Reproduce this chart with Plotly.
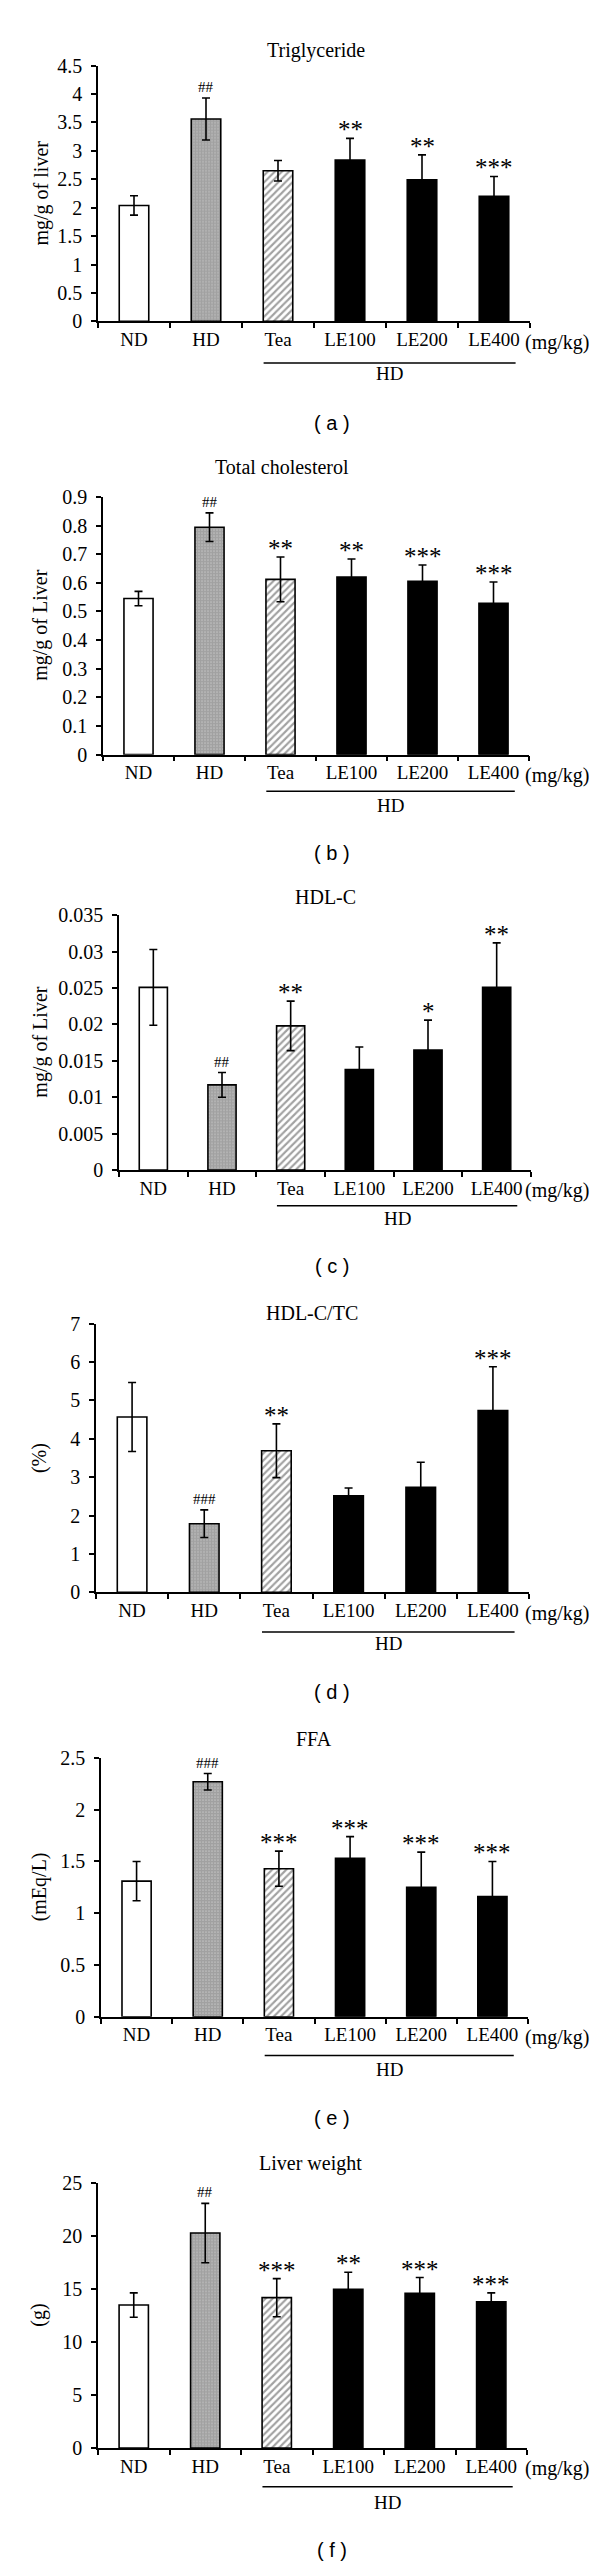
import plotly.graph_objects as go

categories = ["ND", "HD", "Tea", "LE100", "LE200", "LE400"]

tg_mean = [2.04, 3.56, 2.65, 2.84, 2.49, 2.20]
tg_err = [0.17, 0.37, 0.18, 0.38, 0.44, 0.35]
tg_sig = ["", "##", "", "**", "**", "***"]

tc_mean = [0.545, 0.794, 0.612, 0.620, 0.605, 0.528]
tc_err = [0.025, 0.050, 0.078, 0.063, 0.057, 0.075]
tc_sig = ["", "##", "**", "**", "***", "***"]

hdl_mean = [0.0251, 0.0117, 0.0198, 0.0138, 0.0165, 0.0251]
hdl_err = [0.0052, 0.0017, 0.0034, 0.0031, 0.0041, 0.0061]
hdl_sig = ["", "##", "**", "", "*", "**"]

ratio_mean = [4.57, 1.79, 3.69, 2.52, 2.74, 4.74]
ratio_err = [0.90, 0.36, 0.70, 0.20, 0.65, 1.14]
ratio_sig = ["", "###", "**", "", "", "***"]

ffa_mean = [1.31, 2.27, 1.43, 1.53, 1.25, 1.16]
ffa_err = [0.19, 0.08, 0.17, 0.21, 0.34, 0.34]
ffa_sig = ["", "###", "***", "***", "***", "***"]

lw_mean = [13.5, 20.3, 14.2, 15.0, 14.6, 13.8]
lw_err = [1.15, 2.8, 1.8, 1.6, 1.5, 0.85]
lw_sig = ["", "##", "***", "**", "***", "***"]

titles = ["Triglyceride", "Total cholesterol", "HDL-C", "HDL-C/TC", "FFA", "Liver weight"]
ytitles = ["mg/g of liver", "mg/g of Liver", "mg/g of Liver", "(%)", "(mEq/L)", "(g)"]
panel_labels = ["( a )", "( b )", "( c )", "( d )", "( e )", "( f )"]
yranges = [4.5, 0.9, 0.035, 7, 2.5, 25]
dticks = [0.5, 0.1, 0.005, 1, 0.5, 5]
means = [tg_mean, tc_mean, hdl_mean, ratio_mean, ffa_mean, lw_mean]
errs = [tg_err, tc_err, hdl_err, ratio_err, ffa_err, lw_err]
sigs = [tg_sig, tc_sig, hdl_sig, ratio_sig, ffa_sig, lw_sig]

# layout geometry (pixels)
W, H = 600, 2568
plot_x = [(90, 522), (95, 521), (111, 523), (88, 521), (93, 520), (90, 519)]
plot_y = [(47, 305), (482, 742), (904, 1161), (1316, 1587), (1754, 2015), (2183, 2450)]
title_pos = [(308, 32), (274, 452), (317, 886), (304, 1305), (306, 1735), (302, 2163)]
ytitle_x = [33, 33, 33, 31, 31, 31]
line_off = [42, 37, 36, 40, 39, 39]
hd_off = [53, 51, 49, 52, 53, 55]
label_y = [407, 841, 1258, 1687, 2117, 2553]

SERIF = "Liberation Serif"
SANS = "Liberation Sans"

fill_colors = ["white", "white", "white", "black", "black", "black"]
pattern_shapes = ["", ".", "/", "", "", ""]

fig = go.Figure()
layout = dict(width=W, height=H, margin=dict(l=0, r=0, t=0, b=0),
              paper_bgcolor="white", plot_bgcolor="white", showlegend=False)
annotations = []
shapes = []


def px_x(p):
    return p / W


def px_y(p):
    return 1 - p / H


for i in range(6):
    n = i + 1
    xa = "x" if n == 1 else f"x{n}"
    ya = "y" if n == 1 else f"y{n}"
    xkey = "xaxis" if n == 1 else f"xaxis{n}"
    ykey = "yaxis" if n == 1 else f"yaxis{n}"
    fig.add_trace(go.Bar(
        x=categories, y=means[i], xaxis=xa, yaxis=ya,
        marker=dict(color=fill_colors,
                    line=dict(color="black", width=1.6),
                    pattern=dict(shape=pattern_shapes, fgcolor="black", bgcolor="white",
                                 size=[6, 3, 5, 6, 6, 6],
                                 solidity=[0.3, 0.85, 0.42, 0.3, 0.3, 0.3])),
        error_y=dict(type="data", array=errs[i], symmetric=True, color="black",
                     thickness=1.6, width=4),
        width=0.41,
    ))
    x0, x1 = plot_x[i]
    yt, yb = plot_y[i]
    layout[xkey] = dict(domain=[px_x(x0), px_x(x1)], anchor=ya, type="category",
                        categoryorder="array", categoryarray=categories,
                        range=[-0.5, 5.5], showline=True, linecolor="black", linewidth=1.6,
                        ticks="outside", tickson="boundaries", ticklen=5, tickwidth=1.5,
                        tickcolor="black", showgrid=False, zeroline=False,
                        tickfont=dict(family=SERIF, size=19, color="black"))
    layout[ykey] = dict(domain=[px_y(yb), px_y(yt)], anchor=xa, range=[0, yranges[i]],
                        dtick=dticks[i], tick0=0, showline=True, linecolor="black",
                        linewidth=1.6, ticks="outside", ticklen=5, tickwidth=1.5,
                        tickcolor="black", showgrid=False, zeroline=False,
                        ticklabelstandoff=5,
                        tickfont=dict(family=SERIF, size=20, color="black"))
    # chart title
    tx, ty = title_pos[i]
    annotations.append(dict(text=titles[i], x=px_x(tx), y=px_y(ty), xref="paper", yref="paper",
                            showarrow=False, xanchor="center", yanchor="middle",
                            font=dict(family=SERIF, size=20, color="black")))
    # y-axis title
    annotations.append(dict(text=ytitles[i], x=px_x(ytitle_x[i]), y=px_y((yt + yb) / 2),
                            xref="paper", yref="paper", showarrow=False, textangle=-90,
                            xanchor="center", yanchor="middle",
                            font=dict(family=SERIF, size=20, color="black")))
    # (mg/kg)
    annotations.append(dict(text="(mg/kg)", x=px_x(549), y=px_y(yb + 21), xref="paper", yref="paper",
                            showarrow=False, xanchor="center", yanchor="middle",
                            font=dict(family=SERIF, size=20, color="black")))
    # HD group line and label
    shapes.append(dict(type="line", xref=xa, yref="paper", x0=1.8, x1=5.3,
                       y0=px_y(yb + line_off[i]), y1=px_y(yb + line_off[i]),
                       line=dict(color="black", width=1.5)))
    annotations.append(dict(text="HD", x=3.55, y=px_y(yb + hd_off[i]), xref=xa, yref="paper",
                            showarrow=False, xanchor="center", yanchor="middle",
                            font=dict(family=SERIF, size=19, color="black")))
    # panel label
    annotations.append(dict(text=panel_labels[i], x=px_x(324), y=px_y(label_y[i]),
                            xref="paper", yref="paper", showarrow=False,
                            xanchor="center", yanchor="middle",
                            font=dict(family=SANS, size=20, color="black")))
    # significance marks
    for c, m, e, s in zip(categories, means[i], errs[i], sigs[i]):
        if not s:
            continue
        if s.startswith("#"):
            annotations.append(dict(text=s, x=c, y=m + e, xref=xa, yref=ya, showarrow=False,
                                    xanchor="center", yanchor="bottom", yshift=1,
                                    font=dict(family=SERIF, size=15, color="black")))
        else:
            annotations.append(dict(text=s, x=c, y=m + e, xref=xa, yref=ya, showarrow=False,
                                    xanchor="center", yanchor="bottom", yshift=-7,
                                    font=dict(family=SERIF, size=25, color="black")))

layout["annotations"] = annotations
layout["shapes"] = shapes
fig.update_layout(**layout)
fig.write_html("out.html")
